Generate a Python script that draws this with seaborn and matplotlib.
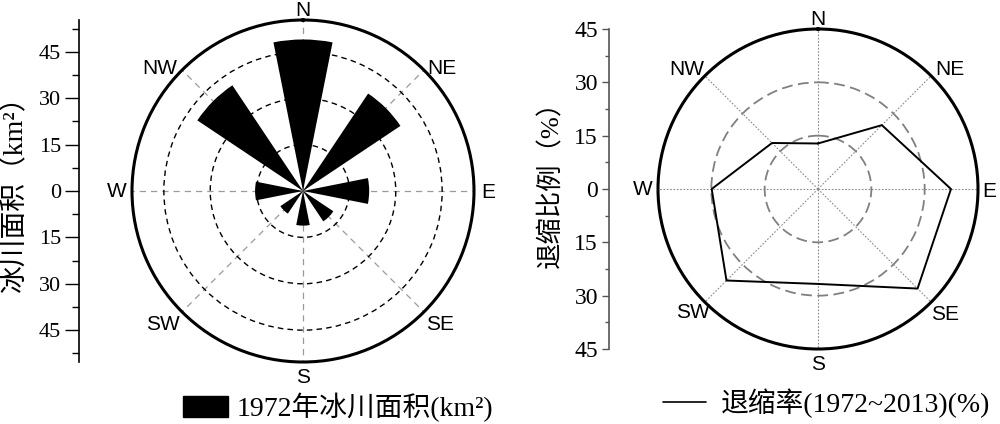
import numpy as np
import pandas as pd
import matplotlib
matplotlib.use("Agg")
import matplotlib.pyplot as plt
import seaborn as sns
from matplotlib.patches import Patch
from matplotlib.lines import Line2D

# direction categories (clockwise from north)
directions = ["N", "NE", "E", "SE", "S", "SW", "W", "NW"]
# 1972 glacier area per aspect (km2)
area_1972 = [49.0, 37.9, 21.4, 11.8, 11.2, 8.8, 15.5, 41.1]
# retreat ratio 1972~2013 per aspect (%)
retreat_pct = [12.8, 25.4, 37.4, 39.6, 26.7, 36.4, 29.9, 18.3]

radial_ticks = [45, 30, 15, 0, -15, -30, -45]
radial_labels = ["45", "30", "15", "0", "15", "30", "45"]

BLACK = "#000000"

sns.set_theme(style="white")
plt.rcParams["font.family"] = ["Liberation Serif", "Noto Sans CJK SC"]
plt.rcParams["axes.unicode_minus"] = False

W, H = 1000, 424
fig = plt.figure(figsize=(10, 4.24), dpi=100)


def rect(left, top, w, h):
    return [left / W, 1 - (top + h) / H, w / W, h / H]


theta = np.deg2rad(np.arange(0, 360, 45))

# where the compass letters sit: (angle in degrees, radius as fraction of the outer circle)
left_label_pos = [(0, 1.053), (48.5, 1.085), (90.6, 1.082), (134.4, 1.12),
                  (180, 1.088), (226.3, 1.133), (270, 1.088), (310.7, 1.103)]
right_label_pos = [(0, 1.058), (47.8, 1.11), (91, 1.073), (134.8, 1.115),
                   (180, 1.098), (225.4, 1.10), (270, 1.096), (312.3, 1.109)]


def style_polar(ax, rmax, minor, label_pos):
    ax.set_theta_zero_location("N")
    ax.set_theta_direction(-1)
    ax.set_ylim(0, rmax)
    ax.set_yticklabels([])
    ax.set_xticks(theta)
    ax.set_xticklabels([])
    ax.tick_params(axis="x", which="major", direction="out", length=5, width=1, colors=BLACK)
    if minor:
        ax.set_xticks(np.deg2rad(np.arange(22.5, 360, 45)), minor=True)
        ax.tick_params(axis="x", which="minor", direction="in", length=5, width=1, colors=BLACK)
    ax.spines["polar"].set_linewidth(2.2)
    ax.spines["polar"].set_color(BLACK)
    ax.set_facecolor("none")
    for name, (ang, frac) in zip(directions, label_pos):
        ax.text(np.deg2rad(ang), frac * rmax, name, ha="center", va="center",
                fontfamily="Liberation Sans", fontsize=15, color=BLACK, clip_on=False)


def side_axis(r, ylim, color, major_len, minor_len, fs):
    ay = fig.add_axes(r)
    ay.set_xticks([])
    for s in ["top", "right", "bottom"]:
        ay.spines[s].set_visible(False)
    ay.spines["left"].set_color(color)
    ay.spines["left"].set_linewidth(1.2)
    ay.set_yticks(radial_ticks)
    ay.set_yticklabels(radial_labels, fontfamily="Liberation Serif", fontsize=fs)
    ay.set_yticks(np.arange(-52.5, 53, 7.5), minor=True)
    ay.set_ylim(-ylim, ylim)
    ay.tick_params(axis="y", which="major", direction="out", length=major_len, width=1,
                   color=color, labelcolor=BLACK, pad=3, left=True)
    ay.tick_params(axis="y", which="minor", direction="out", length=minor_len, width=1,
                   color=color, left=True)
    ay.set_facecolor("none")
    return ay


# ---------- left: glacier area rose ----------
rmax1 = 55.3
ax1 = fig.add_axes(rect(132, 20, 342, 342), projection="polar")
style_polar(ax1, rmax1, True, left_label_pos)
ax1.bar(theta, area_1972, width=np.pi / 8, color=BLACK, edgecolor=BLACK, linewidth=0, zorder=2)
ax1.set_rgrids([15, 30, 45])
ax1.set_yticklabels([])
ax1.yaxis.grid(True, linestyle=(0, (4, 3)), color=BLACK, linewidth=1.0)
ax1.xaxis.grid(True, linestyle=(0, (5, 4)), color="#9a9a9a", linewidth=0.9)
ax1.set_ylim(0, rmax1)
side_axis(rect(79, 20, 1, 342), rmax1, BLACK, 10, 5, 16)

fig.text(15 / W, 1 - 187 / H, "冰川面积（km²）", rotation=90, ha="center", va="center",
         fontsize=20, color=BLACK)

# ---------- right: retreat ratio radar ----------
rmax2 = 45
ax2 = fig.add_axes(rect(658, 29, 320, 320), projection="polar")
style_polar(ax2, rmax2, False, right_label_pos)
ax2.set_rgrids([15, 30])
ax2.set_yticklabels([])
ax2.yaxis.grid(True, linestyle=(0, (6, 3)), color="#808080", linewidth=1.3)
ax2.xaxis.grid(True, linestyle=(0, (1.5, 1.5)), color="#8a8a8a", linewidth=0.8)
radar = pd.DataFrame({
    "theta": np.append(theta, theta[0]),
    "pct": retreat_pct + retreat_pct[:1],
})
sns.lineplot(data=radar, x="theta", y="pct", sort=False, estimator=None,
             color=BLACK, linewidth=1.4, ax=ax2)
ax2.set_xlabel("")
ax2.set_ylabel("")
ax2.set_ylim(0, rmax2)
side_axis(rect(609, 29, 1, 320), rmax2, "#555555", 5, 3, 17)

fig.text(551 / W, 1 - 178 / H, "退缩比例（%）", rotation=90, ha="center", va="center",
         fontsize=19, color=BLACK)

# ---------- legends ----------
fs_leg = 20
fig.legend(handles=[Patch(facecolor=BLACK, edgecolor=BLACK)], labels=["1972年冰川面积(km²)"],
           loc="center left", bbox_to_anchor=(183 / W, 1 - 407.5 / H), frameon=False,
           fontsize=fs_leg, handlelength=1.62, handleheight=0.76, handletextpad=0.32,
           borderpad=0, borderaxespad=0, labelcolor=BLACK)
fig.legend(handles=[Line2D([0], [0], color=BLACK, linewidth=1.2)], labels=["退缩率(1972~2013)(%)"],
           loc="center left", bbox_to_anchor=(663 / W, 1 - 403 / H), frameon=False,
           fontsize=fs_leg, handlelength=1.55, handletextpad=0.54,
           borderpad=0, borderaxespad=0, labelcolor=BLACK)

fig.savefig("out.png", dpi=100, facecolor="white")
